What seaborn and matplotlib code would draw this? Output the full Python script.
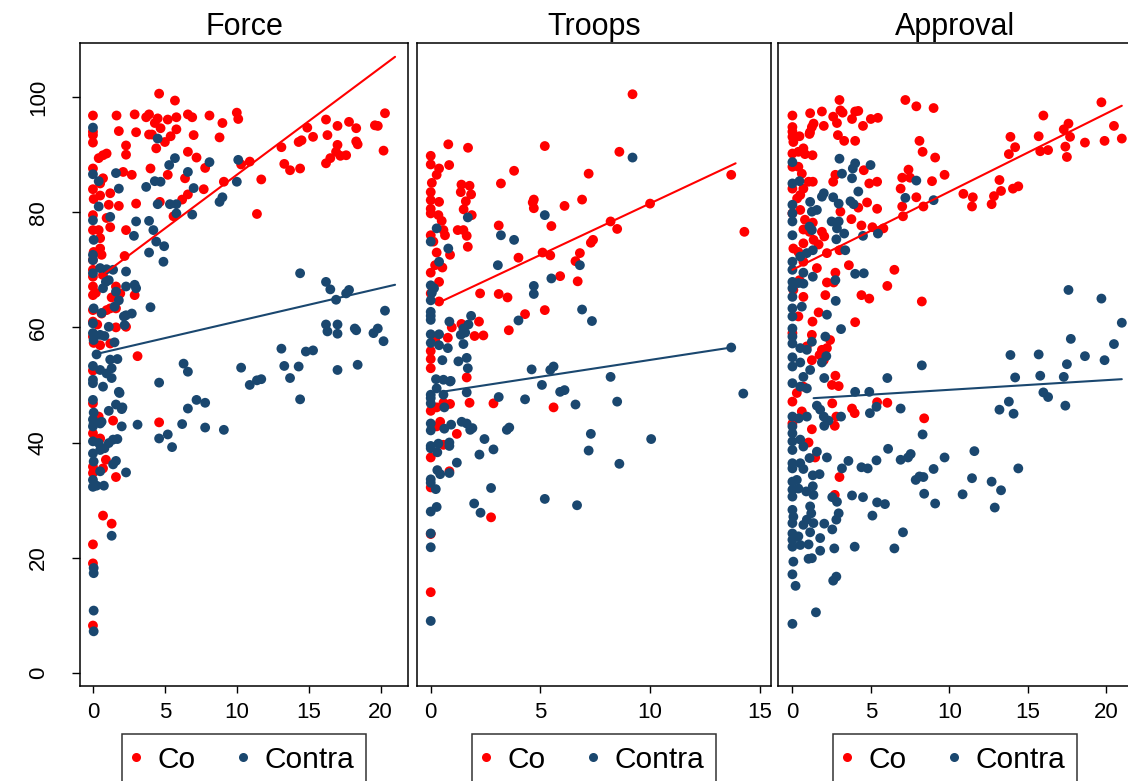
import numpy as np
import pandas as pd
import matplotlib
matplotlib.use("Agg")
import matplotlib.pyplot as plt
import seaborn as sns
from matplotlib.lines import Line2D

sns.set_theme(style="white")
plt.rcParams["font.family"] = ["Liberation Sans", "DejaVu Sans"]
plt.rcParams["text.color"] = "black"
plt.rcParams["xtick.color"] = "black"
plt.rcParams["ytick.color"] = "black"
plt.rcParams["axes.labelcolor"] = "black"

CO_COLOR = "#ff0000"
CONTRA_COLOR = "#1a476f"

# ---------------- Force ----------------
force_co_x = [0, 0, 0, 0, 1.64, 1.8, 2.3, 2.3, 2.9, 3.0, 3.7, 3.9, 3.9, 4.3, 4.5, 4.7, 4.6, 5.7, 5.2, 5.8,
              4.4, 4.1, 5.0, 5.4, 5.8, 6.6, 6.9, 7.0, 8.1, 9.0, 8.8, 10.0, 10.1, 6.6, 7.2, 7.8, 5.2, 6.4, 6.6, 6.2,
              7.7, 9.1, 10.3, 10.9, 11.7, 11.4, 5.6, 4.0, 4.65, 13.1, 13.3, 13.7, 14.4, 14.3, 14.5, 14.9, 15.3, 16.2, 16.3, 17.0,
              17.0, 16.9, 16.2, 16.5, 17.2, 17.6, 17.8, 18.3, 18.3, 18.4, 19.6, 19.8, 20.3, 20.2,
              0, 0.05, 0, 0, 0.05, 0, 0, 0, 0, 0, 0, 0.05, 0.4, 0.7, 0.95, 0.7, 0.5, 0.5, 1.2, 1.1,
              1.8, 2.1, 2.7, 3.0, 0.4, 0.5, 0.95, 1.2, 2.3, 2.2, 0.6, 0.5, 0.7, 1.6, 1.9, 1.3, 1.2, 1.6, 0.6, 0.95,
              2.9, 2.3, 1.6, 1.2, 0.5, 3.1, 0, 0, 0, 0.3, 0.2, 0,
              0, 0.4, 0, 0.5, 1.4, 4.6, 0.9, 0.7, 0, 0, 1.6, 0.7, 1.3, 0, 0, 0]
force_co_y = [96.8, 94.0, 93.4, 92.1, 96.8, 94.1, 91.6, 90.0, 97.0, 93.9, 96.5, 97.0, 93.5, 95.5, 96.3, 94.6, 100.6, 99.4, 96.1, 96.5,
              91.1, 93.5, 92.2, 93.2, 94.4, 97.0, 96.5, 93.4, 96.8, 95.5, 93.0, 97.3, 96.2, 90.5, 89.5, 87.7, 86.5, 85.9, 83.1, 82.2,
              84.0, 85.3, 88.3, 88.8, 85.7, 79.7, 79.3, 87.6, 81.8, 91.3, 88.4, 87.3, 87.6, 92.2, 92.5, 94.7, 93.1, 96.1, 93.4, 95.0,
              91.7, 90.5, 88.5, 89.4, 89.8, 89.9, 95.7, 94.6, 92.3, 91.8, 95.1, 95.0, 97.2, 90.7,
              87.6, 82.3, 79.5, 76.9, 73.1, 71.7, 68.8, 67.1, 65.6, 61.0, 58.4, 57.3, 89.4, 89.9, 90.2, 85.9, 85.0, 82.9, 83.3, 81.3,
              81.1, 87.0, 86.5, 81.5, 76.9, 75.5, 79.0, 77.4, 76.9, 72.4, 72.6, 73.7, 69.1, 67.1, 65.9, 65.2, 63.3, 63.3, 62.4, 63.0,
              65.6, 60.1, 60.0, 57.2, 56.9, 55.0, 84.0, 70.0, 63.0, 60.5, 66.0, 52.5,
              46.8, 44.5, 41.6, 40.7, 43.8, 43.5, 37.0, 35.5, 35.8, 34.7, 34.0, 27.3, 25.9, 22.3, 19.0, 8.2]

force_contra_x = [0, 4.5, 0, 0.4, 0.4, 1.6, 1.8, 1.2, 0, 0.05, 0, 0, 0, 0.05, 0, 0, 0.05, 3.0, 2.85, 3.7,
                  3.9, 4.2, 4.4, 4.95, 3.9, 4.9, 4.3, 4.7, 4.5, 5.3, 5.7, 5.35, 5.8, 5.8, 6.6, 7.0, 6.9, 8.1, 8.8, 9.0,
                  10.0, 10.1, 0.5, 0.95, 1.4, 0.7, 1.1, 0.9, 1.6, 2.3, 2.3, 2.9, 3.0, 1.8, 1.5, 0.6, 2.3, 2.7, 2.15, 2.2,
                  4.0, 1.1, 0.5, 0.8, 1.5, 0.25, 0, 0.5, 0.95, 1.3, 1.2, 1.7, 0, 0.7, 1.3, 14.4, 16.2, 16.5, 16.9, 17.6,
                  17.8, 20.3, 16.2, 16.3, 17.0, 17.0, 18.2, 18.3, 19.5, 19.8, 20.2, 13.1, 14.8, 15.3, 13.3, 14.3, 13.7, 17.0, 18.4, 6.3,
                  6.6, 10.3, 4.6, 10.9, 11.4, 11.7, 14.4, 7.2, 7.8,
                  0, 1.8, 1.85, 1.6, 2.05, 2.0, 1.1, 0, 0.05, 0, 0.05, 0, 0.5, 0.6, 2.0, 3.1, 6.6, 6.2, 7.8, 9.1,
                  4.6, 5.2, 5.5, 0, 0.4, 0.5, 0.8, 1.1, 1.7, 1.4, 0, 0.05, 1.6, 1.4, 0.5, 2.3, 0, 0, 0.76, 0.25,
                  1.3, 0.05, 0.05, 0.05, 0.05]
force_contra_y = [94.7, 92.8, 86.6, 85.4, 81.0, 86.8, 84.1, 79.2, 78.6, 75.2, 72.6, 71.7, 69.4, 63.3, 60.7, 59.0, 57.8, 78.4, 75.9, 84.4,
                  78.5, 76.9, 74.9, 74.1, 73.0, 71.4, 85.4, 85.3, 81.4, 88.2, 89.4, 81.4, 81.4, 79.8, 87.0, 84.2, 79.6, 88.7, 81.8, 82.6,
                  85.3, 89.1, 70.3, 70.1, 70.0, 66.8, 68.2, 67.9, 66.2, 69.7, 67.1, 67.4, 66.8, 64.7, 63.6, 62.5, 62.1, 62.4, 61.9, 60.4,
                  63.5, 60.1, 58.7, 58.5, 57.4, 55.3, 53.3, 52.6, 52.0, 52.9, 54.4, 54.5, 50.9, 49.7, 51.2, 69.4, 67.9, 66.6, 64.8, 65.9,
                  66.5, 62.9, 60.5, 59.3, 60.5, 58.9, 59.8, 59.5, 59.0, 59.8, 57.6, 56.3, 55.8, 56.0, 53.3, 53.2, 51.2, 52.6, 53.5, 53.7,
                  52.3, 53.0, 50.4, 50.0, 50.8, 51.0, 47.5, 47.4, 46.9,
                  50.3, 48.8, 48.6, 46.6, 46.1, 45.8, 45.5, 47.4, 45.2, 44.0, 43.3, 42.8, 43.3, 43.6, 42.8, 43.1, 45.9, 43.2, 42.6, 42.2,
                  40.7, 41.4, 39.2, 40.2, 39.9, 38.7, 39.0, 39.9, 40.6, 40.5, 38.1, 36.7, 36.8, 36.2, 35.0, 34.8, 33.5, 32.3, 32.5, 32.5,
                  23.8, 18.2, 17.3, 10.8, 7.2]

force_fit_x = [0.45, 21.0]
force_co_fit = [68.7, 107.0]
force_contra_fit = [55.5, 67.4]

# ---------------- Troops ----------------
troops_co_x = [9.2, 0.8, 1.7, 0, 0, 0.84, 0.38, 5.2, 8.6, 3.8, 7.2, 13.7, 0.27, 0.05, 3.2, 1.4, 1.77, 1.37, 1.84, 0,
               0, 0, 0, 0.38, 1.6, 1.5, 1.87, 4.7, 4.65, 4.7, 6.1, 6.9, 0.35, 0.5, 3.1, 5.5, 8.2, 10.0, 8.5, 0,
               0.58, 0.65, 0.12, 1.23, 1.49, 1.64, 1.69, 7.3, 7.4, 0.27, 0.88, 4.0, 5.1, 5.45, 6.8, 6.6, 0.2, 0.53, 0, 0.38,
               5.9, 6.7, 0, 0.38, 2.25, 3.1, 3.5, 4.3, 5.2, 1.4, 0.96, 2.2, 0.78, 2.0, 2.4, 3.56, 0.2, 0, 0, 0,
               1.64, 14.3,
               0, 0.27, 0.58, 0.88, 1.77, 2.86, 5.6, 0.43, 0.27, 1.19, 0.58, 0, 0.85, 0, 0, 2.75, 0]
troops_co_y = [100.5, 91.8, 91.2, 89.8, 88.3, 88.2, 87.6, 91.5, 90.5, 87.2, 86.7, 86.5, 86.5, 85.1, 85.0, 84.8, 84.6, 83.5, 83.1, 83.5,
               82.1, 80.6, 79.8, 81.8, 81.9, 80.5, 79.5, 82.2, 81.7, 80.7, 81.1, 82.2, 79.5, 78.5, 77.7, 77.6, 78.4, 81.5, 77.1, 76.0,
               76.9, 76.0, 74.9, 76.9, 76.9, 75.9, 74.0, 74.7, 75.2, 73.0, 72.6, 72.1, 73.0, 72.5, 72.9, 71.5, 70.8, 70.4, 69.5, 67.9,
               68.9, 68.0, 65.9, 64.5, 65.9, 65.8, 65.2, 62.3, 63.0, 60.6, 60.0, 61.0, 58.2, 58.5, 58.6, 59.5, 57.8, 55.9, 54.5, 52.9,
               51.3, 76.6,
               45.5, 46.1, 46.9, 46.7, 46.9, 46.8, 46.1, 43.6, 42.8, 41.5, 39.6, 37.4, 35.0, 32.2, 24.1, 27.0, 14.0]

troops_contra_x = [9.2, 1.69, 5.2, 0.27, 3.2, 3.8, 0, 0.8, 0.38, 3.06, 6.8, 5.5, 4.7, 4.7, 0, 0.15, 0.05, 0, 0, 0,
                   0, 1.84, 0.85, 1.72, 1.49, 1.57, 1.37, 6.9, 7.35, 4.0, 0, 0, 0.38, 0.38, 0.78, 0.53, 1.26, 1.64, 1.69, 1.49,
                   0.24, 0.58, 0.91, 4.6, 5.45, 5.6, 8.2, 13.7, 5.07, 5.9, 6.1, 0, 0.27, 0.58, 1.64, 3.1, 4.3, 14.25,
                   0, 0, 0.88, 0.62, 6.6, 8.5, 0, 0, 0.62, 0.93, 1.41, 1.64, 1.8, 1.9, 3.47, 3.58, 2.45, 7.3, 10.05, 0,
                   0, 0.35, 0.3, 0.85, 0.85, 2.86, 2.22, 7.2, 1.19, 8.6, 0.3, 0.43, 0.85, 0, 0, 0.23, 2.75, 5.2, 6.67, 1.98,
                   2.27, 0, 0.27, 0, 0, 0]
troops_contra_y = [89.5, 79.1, 79.5, 77.2, 76.0, 75.2, 74.9, 73.7, 71.4, 70.8, 70.8, 68.5, 67.2, 65.8, 67.3, 66.8, 66.0, 64.7, 62.7, 62.0,
                   61.3, 62.0, 61.0, 60.5, 59.8, 59.1, 58.7, 63.1, 61.1, 61.2, 58.8, 57.3, 58.8, 56.9, 56.4, 54.3, 54.1, 54.7, 52.9, 57.1,
                   51.0, 50.9, 50.7, 52.7, 52.6, 53.2, 51.4, 56.5, 50.0, 48.8, 49.1, 48.3, 49.4, 48.3, 48.7, 47.9, 47.5, 48.5,
                   47.7, 46.8, 50.6, 46.1, 46.6, 47.1, 43.3, 42.1, 42.4, 43.1, 43.6, 43.3, 42.2, 42.5, 42.2, 42.6, 40.6, 41.5, 40.6, 39.4,
                   39.0, 39.8, 38.3, 40.0, 39.4, 38.8, 37.9, 38.6, 36.5, 36.3, 35.2, 34.5, 34.7, 33.6, 33.0, 31.9, 32.1, 30.2, 29.1, 29.4,
                   27.8, 28.0, 28.8, 24.2, 21.8, 9.0]

troops_co_fit_x = [0.42, 13.9]
troops_co_fit = [64.4, 88.5]
troops_contra_fit_x = [0.5, 13.7]
troops_contra_fit = [48.8, 56.5]

# ---------------- Approval ----------------
approval_co_x = [3.0, 7.2, 7.9, 9.0, 19.7, 0, 1.13, 1.88, 2.6, 3.06, 3.2, 3.8, 4.0, 4.2, 5.0, 5.45, 1.35, 1.24, 2.0, 2.84,
                 4.5, 0, 0, 0, 0.45, 0.06, 1.09, 1.12, 2.9, 3.3, 4.0, 16.0, 17.6, 17.3, 20.5, 13.9, 15.7, 17.7, 14.2, 13.8,
                 15.8, 16.3, 17.4, 17.5, 18.65, 19.9, 21.0, 8.1, 8.3, 9.1, 9.7, 7.4, 7.0, 7.5, 8.9, 6.9, 7.9, 8.35, 7.0, 7.05,
                 10.9, 11.5, 11.45, 12.7, 12.85, 13.3, 13.2, 14.06, 14.4, 4.55, 4.9, 5.4, 2.6, 2.74, 1.3, 4.76, 5.4, 4.2, 3.06, 3.76,
                 4.4, 5.1, 5.8, 5.5, 1.88, 2.03, 1.35, 1.67, 0.7, 1.09, 3.0, 2.2, 1.56, 3.6, 6.5, 2.74, 2.2, 2.63, 6.05, 2.1,
                 4.4, 4.9, 8.25, 1.67, 1.28, 4.0, 0.7, 0.38, 0.45, 0.06, 0.7, 0.38, 0.06, 0.7, 0, 0.5, 0.3, 0.7, 0, 0.38,
                 0.6, 0, 0, 0.38, 0.7, 0.8, 1.28, 0.5, 1.03, 1.3, 0.8, 2.4, 2.2, 1.88, 2.74, 2.52, 2.95, 0, 1.24, 1.24,
                 0.92, 1.73, 2.0, 0.7, 0.28,
                 2.54, 3.8, 3.97, 5.4, 6.05, 8.4, 1.24, 1.03, 1.45, 3.0, 2.7, 2.8, 0, 0.6, 0, 2.7]
approval_co_y = [99.5, 99.5, 98.4, 98.1, 99.1, 96.8, 97.2, 97.5, 96.6, 97.7, 97.3, 96.2, 97.5, 97.6, 96.2, 96.4, 95.4, 94.8, 95.0, 95.5,
                 95.0, 94.8, 94.0, 93.1, 93.2, 92.2, 93.6, 93.9, 93.4, 92.4, 92.4, 96.8, 95.4, 94.4, 95.0, 93.1, 93.2, 93.1, 91.3, 90.1,
                 90.6, 90.8, 91.4, 89.6, 92.1, 92.4, 92.8, 92.4, 90.5, 89.5, 86.5, 87.4, 86.0, 86.0, 85.4, 84.1, 82.6, 81.0, 81.0, 79.3,
                 83.2, 82.6, 81.0, 81.4, 82.8, 83.7, 85.6, 84.1, 84.5, 87.3, 85.0, 85.3, 85.3, 86.5, 85.3, 81.7, 80.6, 80.8, 80.1, 78.8,
                 77.7, 77.4, 77.2, 76.7, 76.6, 75.8, 75.2, 74.4, 77.0, 76.6, 73.4, 72.9, 70.3, 70.8, 70.0, 69.5, 67.8, 67.8, 67.2, 65.6,
                 65.6, 65.0, 64.5, 62.6, 61.0, 60.9, 65.3, 61.9, 68.2, 66.5, 71.4, 73.1, 73.7, 74.6, 79.8, 80.4, 82.4, 84.1, 84.1, 87.9,
                 86.7, 87.9, 90.2, 90.5, 91.1, 90.1, 89.9, 83.0, 85.3, 78.2, 78.7, 57.8, 56.4, 56.1, 51.6, 50.0, 49.8, 59.0, 58.7, 54.3,
                 56.7, 55.2, 54.3, 49.7, 48.6,
                 46.8, 45.9, 45.1, 47.0, 46.9, 44.2, 42.3, 40.0, 37.4, 34.0, 42.9, 44.5, 47.1, 45.4, 43.3, 30.9]

approval_contra_x = [3.0, 4.0, 3.85, 4.98, 3.16, 3.8, 0, 0, 0.45, 7.9, 4.2, 2.0, 1.88, 2.6, 2.95, 1.13, 1.24, 1.56, 3.7, 3.9,
                     7.2, 9.0, 0, 0, 0, 0, 2.5, 2.95, 2.84, 3.3, 2.8, 1.09, 1.24, 5.45, 4.5, 3.37, 0.5, 0.92, 1.3, 0,
                     0, 0.7, 1.3, 4.0, 4.55, 2.74, 0, 0, 0, 0.38, 0.7, 2.76, 0, 0.6, 0, 2.2, 3.1, 0, 0, 0,
                     0.5, 0.92, 1.24, 2.1, 2.16, 1.88, 8.25, 0, 0, 0.5, 1.13, 0.7, 0, 0.5, 0.92, 2.03, 6.05, 17.6, 19.7, 21.0,
                     17.75, 20.5, 13.9, 15.7, 18.65, 19.9, 17.5, 14.2, 15.8, 17.3, 4.0, 4.9, 16.0, 16.3, 13.2, 13.8, 14.1, 17.4, 1.56, 1.77,
                     2.0, 4.94, 5.36, 6.9, 3.1, 2.03, 2.3, 0, 0, 0.4, 0.92, 8.3, 0, 0, 0, 0.5, 0.7, 1.56, 2.2, 1.09,
                     6.1, 3.57, 5.36, 6.9, 7.37, 7.54, 9.7, 11.6, 0, 0.5, 0, 0.7, 3.16, 4.4, 4.8, 9.0, 14.4, 1.3, 1.73, 7.86,
                     8.1, 8.35, 11.45, 12.7, 13.3, 0, 0.28, 0, 0.38, 0, 0.88, 1.3, 1.34, 3.8, 4.5, 2.54, 2.84, 2.95, 2.8, 5.4,
                     5.9, 8.4, 9.1, 10.85, 12.9, 5.1, 0, 0.06, 1.13, 1.2, 0.92, 0.7, 0, 1.34, 2.03, 0, 0, 0.38, 0, 0.5,
                     1.13, 1.77, 2.54, 7.05, 1.03, 1.03, 1.24, 1.77, 2.67, 3.97, 6.5, 0.06, 0, 0.2, 2.6, 2.8, 1.5, 0]
approval_contra_y = [89.3, 88.5, 87.6, 88.2, 86.7, 85.9, 88.7, 85.0, 85.4, 85.5, 83.6, 83.3, 82.7, 82.6, 81.5, 81.8, 80.1, 80.4, 81.9, 81.4,
                     82.5, 82.1, 81.3, 79.8, 78.4, 76.0, 78.4, 78.4, 77.2, 76.3, 75.3, 77.5, 76.9, 76.3, 75.9, 73.4, 72.3, 72.9, 73.4, 71.4,
                     70.0, 69.5, 68.8, 69.3, 69.4, 68.2, 67.9, 66.8, 65.3, 67.7, 67.6, 64.6, 63.3, 63.6, 61.9, 62.2, 59.7, 59.8, 58.4, 57.2,
                     56.4, 56.1, 57.5, 58.4, 55.0, 53.9, 53.4, 54.8, 53.2, 53.9, 52.6, 51.4, 50.3, 49.7, 49.4, 51.2, 51.2, 66.5, 65.0, 60.8,
                     58.0, 57.1, 55.2, 55.3, 55.0, 54.3, 53.6, 51.3, 51.6, 51.4, 48.8, 48.8, 48.7, 47.9, 45.7, 47.1, 45.0, 46.4, 46.4, 45.7,
                     44.5, 45.1, 46.2, 45.9, 44.5, 42.9, 43.8, 44.5, 42.8, 44.2, 44.5, 41.4, 41.6, 40.2, 38.7, 40.5, 39.3, 38.4, 37.4, 37.3,
                     38.9, 36.8, 36.9, 37.0, 37.4, 38.0, 37.4, 38.5, 36.4, 36.4, 35.5, 35.4, 35.5, 35.7, 35.5, 35.4, 35.5, 34.3, 34.5, 33.5,
                     34.1, 34.0, 33.8, 33.2, 31.7, 33.2, 33.5, 31.8, 32.0, 30.6, 31.5, 32.4, 30.9, 30.8, 30.5, 30.5, 29.7, 27.7, 26.6, 29.6,
                     29.3, 31.1, 29.4, 31.0, 28.7, 27.3, 28.3, 27.1, 28.9, 27.7, 26.6, 25.7, 26.0, 26.0, 25.9, 24.2, 23.1, 23.7, 21.9, 22.2,
                     24.4, 23.4, 24.9, 24.4, 22.3, 19.8, 19.9, 21.2, 21.6, 21.9, 21.6, 19.3, 17.1, 15.1, 16.0, 16.7, 10.5, 8.5]

approval_co_fit_x = [0.0, 21.0]
approval_co_fit = [70.0, 98.5]
approval_contra_fit_x = [1.35, 21.0]
approval_contra_fit = [47.7, 51.0]

panel_titles = ["Force", "Troops", "Approval"]
group_labels = ["Co", "Contra"]
y_ticks = [0, 20, 40, 60, 80, 100]


def frame(co_x, co_y, contra_x, contra_y):
    return pd.concat([
        pd.DataFrame({"x": co_x, "y": co_y, "group": "Co"}),
        pd.DataFrame({"x": contra_x, "y": contra_y, "group": "Contra"}),
    ], ignore_index=True)


panels = [
    dict(points=frame(force_co_x, force_co_y, force_contra_x, force_contra_y),
         fits=frame(force_fit_x, force_co_fit, force_fit_x, force_contra_fit),
         xlim=(-0.9, 21.9), xticks=[0, 5, 10, 15, 20]),
    dict(points=frame(troops_co_x, troops_co_y, troops_contra_x, troops_contra_y),
         fits=frame(troops_co_fit_x, troops_co_fit, troops_contra_fit_x, troops_contra_fit),
         xlim=(-0.64, 15.5), xticks=[0, 5, 10, 15]),
    dict(points=frame(approval_co_x, approval_co_y, approval_contra_x, approval_contra_y),
         fits=frame(approval_co_fit_x, approval_co_fit, approval_contra_fit_x, approval_contra_fit),
         xlim=(-0.9, 21.65), xticks=[0, 5, 10, 15, 20]),
]

W, H = 1128, 781
fig = plt.figure(figsize=(W / 100, H / 100), dpi=100)
# axes boxes in pixels: left, right
boxes = [(80, 408), (416.7, 770.7), (778.3, 1132)]
top_px, bottom_px = 43, 686
palette = {"Co": CO_COLOR, "Contra": CONTRA_COLOR}

for i, (panel, (lx, rx)) in enumerate(zip(panels, boxes)):
    ax = fig.add_axes([lx / W, 1 - bottom_px / H, (rx - lx) / W, (bottom_px - top_px) / H])
    sns.scatterplot(data=panel["points"], x="x", y="y", hue="group", palette=palette,
                    s=50, linewidth=0, alpha=1, legend=False, ax=ax, zorder=2)
    sns.lineplot(data=panel["fits"], x="x", y="y", hue="group", palette=palette,
                 linewidth=1.5, legend=False, ax=ax, zorder=3, estimator=None, sort=False)
    ax.set_xlim(*panel["xlim"])
    ax.set_ylim(-2.3, 109.4)
    ax.set_xticks(panel["xticks"])
    ax.set_xlabel("")
    ax.set_ylabel("")
    for sp in ax.spines.values():
        sp.set_visible(True)
        sp.set_color("black")
        sp.set_linewidth(1.1)
    ax.tick_params(axis="x", direction="out", length=5, width=1, color="black",
                   labelsize=16, labelcolor="black", pad=6.5, bottom=True)
    if i == 0:
        ax.set_yticks(y_ticks)
        ax.tick_params(axis="y", direction="out", length=5.5, width=1, color="black",
                       labelsize=16, labelcolor="black", pad=17, left=True, labelrotation=90)
        for lab in ax.get_yticklabels():
            lab.set_va("center")
    else:
        ax.set_yticks([])
    ax.set_title(panel_titles[i], fontsize=22, pad=6, color="black")
    handles = [Line2D([], [], marker="o", linestyle="", markersize=6.5,
                      markerfacecolor=palette[g], markeredgewidth=0, label=g)
               for g in group_labels]
    leg = ax.legend(handles=handles, loc="upper center", bbox_to_anchor=(0.5, -0.074),
                    ncol=2, frameon=True, fancybox=False, fontsize=21.5,
                    handletextpad=0.65, columnspacing=1.5, handlelength=0.15,
                    borderpad=0.4, borderaxespad=0)
    for t in leg.get_texts():
        t.set_color("black")
    leg.get_frame().set_edgecolor("black")
    leg.get_frame().set_linewidth(1.1)

fig.savefig("out.png", dpi=100)
